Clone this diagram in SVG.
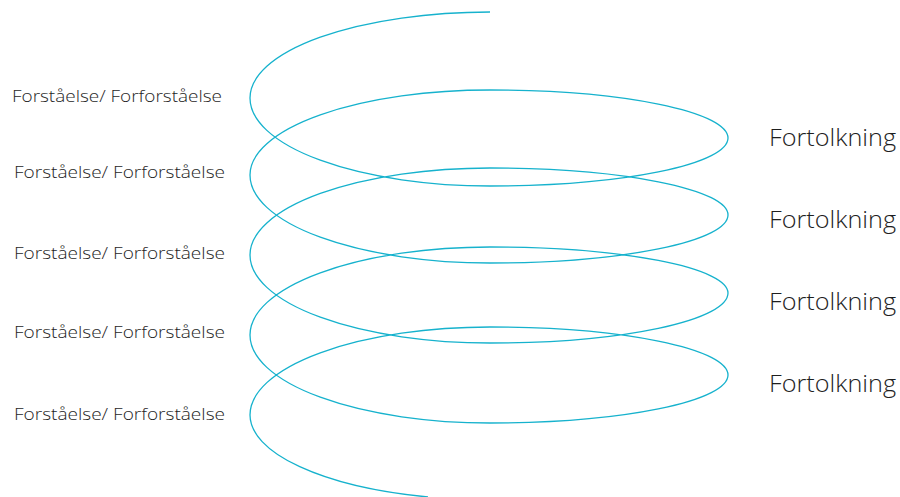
<svg xmlns="http://www.w3.org/2000/svg" width="900" height="497" viewBox="0 0 900 497">
<style>
.sp{fill:none;stroke:#16b2cd;stroke-width:1.3}
.l{font-family:"Open Sans","Liberation Sans",sans-serif;font-size:15.5px;font-weight:300;fill:#1e1e1e}
.r{font-family:"Open Sans","Liberation Sans",sans-serif;font-size:23px;font-weight:300;fill:#1e1e1e}
</style>
<rect width="900" height="497" fill="#ffffff"/>
<g id="spiral">
<path class="sp" d="M490,12 A240,86 0 0 0 250,98 A240,88 0 0 0 490,186 A238,48 0 0 0 728,138 A238,48 0 0 0 490,90 A240,85 0 0 0 250,175 A240,88 0 0 0 490,263 A238,48 0 0 0 728,215 A238,47 0 0 0 490,168 A240,87 0 0 0 250,255 A240,88 0 0 0 490,343 A238,50 0 0 0 728,293 A238,46 0 0 0 490,247 A240,88 0 0 0 250,335 A240,88 0 0 0 490,423 A238,48 0 0 0 728,375 A238,48 0 0 0 490,327 A240,88 0 0 0 250,415 A240,85 0 0 0 428,497"/>
</g>
<g id="labels-left">
<text class="l" x="12" y="102" textLength="210" lengthAdjust="spacingAndGlyphs">Forståelse/ Forforståelse</text>
<text class="l" x="14" y="178" textLength="211" lengthAdjust="spacingAndGlyphs">Forståelse/ Forforståelse</text>
<text class="l" x="14" y="259" textLength="211" lengthAdjust="spacingAndGlyphs">Forståelse/ Forforståelse</text>
<text class="l" x="14" y="338" textLength="211" lengthAdjust="spacingAndGlyphs">Forståelse/ Forforståelse</text>
<text class="l" x="14" y="420" textLength="211" lengthAdjust="spacingAndGlyphs">Forståelse/ Forforståelse</text>
</g>
<g id="labels-right">
<text class="r" x="769" y="146" textLength="127" lengthAdjust="spacingAndGlyphs">Fortolkning</text>
<text class="r" x="769" y="228" textLength="127" lengthAdjust="spacingAndGlyphs">Fortolkning</text>
<text class="r" x="769" y="310" textLength="127" lengthAdjust="spacingAndGlyphs">Fortolkning</text>
<text class="r" x="769" y="392" textLength="127" lengthAdjust="spacingAndGlyphs">Fortolkning</text>
</g>
</svg>
